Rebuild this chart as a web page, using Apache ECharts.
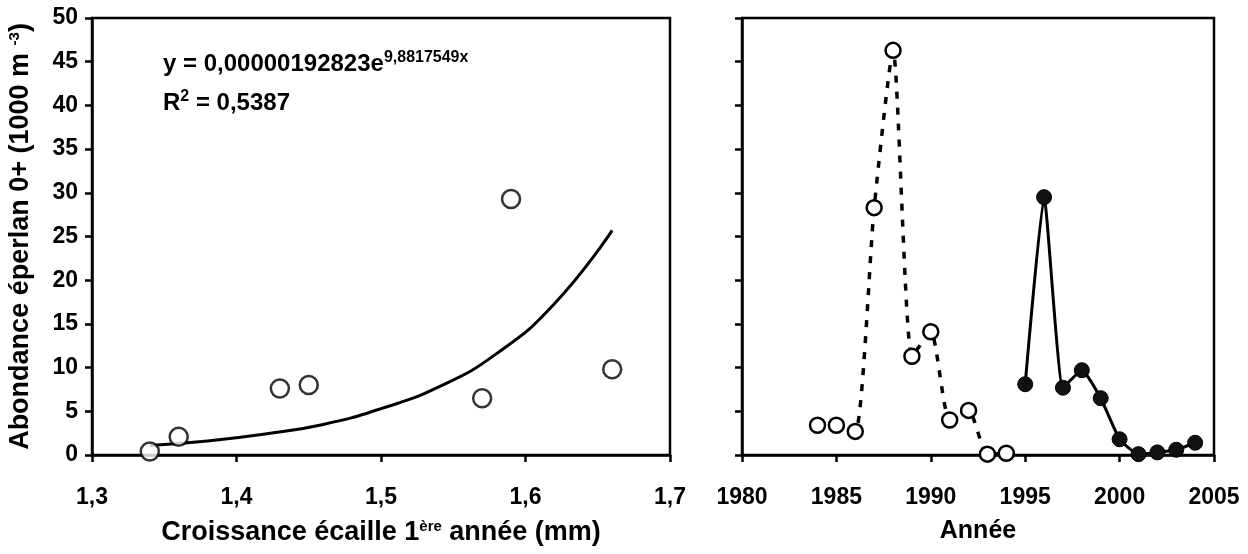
<!DOCTYPE html>
<html>
<head>
<meta charset="utf-8">
<script src="https://cdn.jsdelivr.net/npm/echarts@6/dist/echarts.min.js"></script>
<style>
  html, body { margin: 0; padding: 0; background: #fff; }
  #chart { width: 1248px; height: 554px; }
</style>
</head>
<body>
<div id="chart"></div>
<script>
// croissance vs abondance (points)
const growthX = [1.34, 1.36, 1.43, 1.45, 1.57, 1.59, 1.66];
const growthY = [0.4, 2.1, 7.6, 8.0, 6.5, 29.3, 9.8];
// courbe de tendance
const fitX = [1.34, 1.38, 1.42, 1.46, 1.50, 1.54, 1.58, 1.62, 1.66];
const fitY = [1.1, 1.6, 2.4, 3.5, 5.3, 7.8, 11.6, 17.3, 25.7];
// abondance par année
const yearsOpen = [1984, 1985, 1986, 1987, 1988, 1989, 1990, 1991, 1992, 1993, 1994];
const abundOpen = [3.4, 3.4, 2.7, 28.3, 46.3, 11.3, 14.1, 4.0, 5.1, 0.1, 0.2];
const yearsFilled = [1995, 1996, 1997, 1998, 1999, 2000, 2001, 2002, 2003, 2004];
const abundFilled = [8.1, 29.5, 7.7, 9.7, 6.5, 1.8, 0.1, 0.3, 0.6, 1.4];

const font = "'Liberation Sans', Arial, sans-serif";
const tickStyle = { color: "#000", fontFamily: font, fontWeight: "bold", fontSize: 23 };
const titleStyle = { color: "#000", fontFamily: font, fontWeight: "bold", fontSize: 25 };
const bigTitle = Object.assign({}, titleStyle, { fontSize: 27 });
const noteStyle = Object.assign({}, tickStyle, { fontSize: 24, lineHeight: 39 });
const axisLine = { show: true, onZero: false, lineStyle: { color: "#000", width: 2.5 } };
const axisTick = { show: true, inside: false, length: 7, lineStyle: { color: "#000", width: 2.5 } };
const sup = { fontFamily: font, fontWeight: "bold", fontSize: 15, color: "#000", padding: [0, 0, 12, 0] };
const supNote = Object.assign({}, sup, { fontSize: 16 });

const chart = echarts.init(document.getElementById("chart"));

var option = {
  animation: false,
  backgroundColor: "#fff",
  grid: [
    { left: 92, top: 18, width: 578, height: 437, show: true, borderColor: "#000", borderWidth: 2.5 },
    { left: 742, top: 18, width: 472, height: 437, show: true, borderColor: "#000", borderWidth: 2.5 },
  ],
  xAxis: [
    {
      gridIndex: 0, type: "value", min: 1.3, max: 1.7, interval: 0.1,
      axisLine: axisLine, axisTick: axisTick, splitLine: { show: false },
      axisLabel: Object.assign({ margin: 31, formatter: (v) => v.toFixed(1).replace(".", ",") }, tickStyle),
      name: "{b|Croissance écaille 1}{s|ère}{b| année (mm)}",
      nameLocation: "middle", nameGap: 64,
      nameTextStyle: { rich: { b: bigTitle, s: sup } },
    },
    {
      gridIndex: 1, type: "value", min: 1980, max: 2005, interval: 5,
      axisLine: axisLine, axisTick: axisTick, splitLine: { show: false },
      axisLabel: Object.assign({ margin: 31, formatter: (v) => String(v) }, tickStyle),
      name: "Année", nameLocation: "middle", nameGap: 64,
      nameTextStyle: titleStyle,
    },
  ],
  yAxis: [
    {
      gridIndex: 0, type: "value", min: 0, max: 50, interval: 5,
      axisLine: axisLine, axisTick: axisTick, splitLine: { show: false },
      axisLabel: Object.assign({ margin: 14 }, tickStyle),
      name: "{b|Abondance éperlan 0+ (1000 m }{s|-3}{b|)}",
      nameLocation: "middle", nameGap: 58, nameRotate: 90,
      nameTextStyle: { rich: { b: bigTitle, s: sup } },
    },
    {
      gridIndex: 1, type: "value", min: 0, max: 50, interval: 5,
      axisLine: axisLine, axisTick: axisTick, splitLine: { show: false },
      axisLabel: { show: false },
    },
  ],
  graphic: [
    {
      type: "text", left: 163, top: 50,
      style: {
        text: "{b|y = 0,00000192823e}{s|9,8817549x}\n{b|R}{s|2}{b| = 0,5387}",
        rich: { b: noteStyle, s: supNote },
      },
    },
  ],
  series: [
    {
      type: "line", xAxisIndex: 0, yAxisIndex: 0,
      data: fitX.map((x, i) => [x, fitY[i]]),
      smooth: true, symbol: "none",
      lineStyle: { color: "#000", width: 3 },
      z: 2,
    },
    {
      type: "scatter", xAxisIndex: 0, yAxisIndex: 0,
      data: growthX.map((x, i) => [x, growthY[i]]),
      symbol: "circle", symbolSize: 18,
      itemStyle: { color: "#fff", borderColor: "#000", borderWidth: 2.5 },
      z: 3,
    },
    {
      type: "line", xAxisIndex: 1, yAxisIndex: 1,
      data: yearsOpen.map((x, i) => [x, abundOpen[i]]),
      smooth: 0.2, symbol: "circle", symbolSize: 15, showAllSymbol: true,
      lineStyle: { color: "#000", width: 3.5, type: [7, 9] },
      itemStyle: { color: "#fff", borderColor: "#000", borderWidth: 2.5 },
      z: 3,
    },
    {
      type: "line", xAxisIndex: 1, yAxisIndex: 1,
      data: yearsFilled.map((x, i) => [x, abundFilled[i]]),
      smooth: 0.15, symbol: "circle", symbolSize: 15, showAllSymbol: true,
      lineStyle: { color: "#000", width: 3 },
      itemStyle: { color: "#111", borderColor: "#000", borderWidth: 1 },
      z: 3,
    },
  ],
};

chart.setOption(option);
</script>
</body>
</html>
